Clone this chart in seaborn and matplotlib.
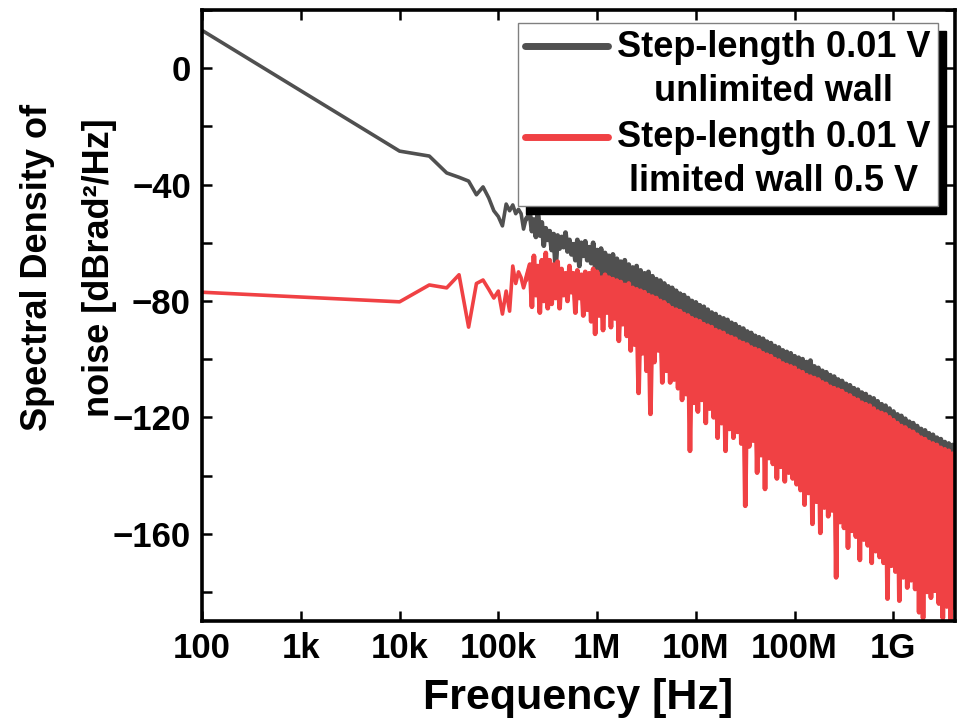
import matplotlib
matplotlib.use("Agg")
import matplotlib.pyplot as plt
import numpy as np
import pandas as pd
import seaborn as sns
from matplotlib.lines import Line2D
from matplotlib.legend_handler import HandlerLine2D
from matplotlib.ticker import FixedLocator, LogLocator, MultipleLocator, NullFormatter

# low-frequency bins, read point by point
black_f_low = [1e2, 1e4, 2e4, 3e4, 4e4, 5e4, 6e4, 7e4, 8e4, 9e4,
               1e5, 1.1e5, 1.2e5, 1.3e5, 1.4e5, 1.5e5, 1.6e5, 1.7e5, 1.8e5, 1.9e5]
black_db_low = [13.0, -28.5, -30.2, -36.0, -37.5, -38.8, -43.5, -40.8, -44.6, -49.0,
                -51.0, -54.2, -46.7, -49.0, -47.0, -50.0, -48.5, -50.0, -55.3, -52.0]

red_f_low = black_f_low
red_db_low = [-77.0, -80.3, -74.5, -75.5, -71.0, -89.0, -74.0, -72.8, -76.0, -79.0,
              -76.6, -84.5, -76.6, -83.5, -68.0, -74.0, -70.0, -72.0, -75.5, -72.8]

# dense part (210 kHz .. 4.2 GHz), sampled every 0.02 decade, peak/dip pairs
dense_start, dense_stop = 10 ** 5.32, 10 ** 9.62

black_db_dense = [
    -50, -56, -52, -58, -49, -57.5, -53, -61, -55, -59, -56, -62.5, -57, -68.7, -57.5, -62,
    -58, -61.5, -56.5, -63, -59, -64, -60.5, -66, -59, -68, -60, -64.5, -59.5, -66, -61.5, -67,
    -60, -69, -62.5, -71.5, -62, -73.5, -63.5, -72.5, -64.5, -73.5, -64, -74, -65.5, -74.5,
    -66.5, -75, -66, -76, -67.5, -75.5, -68.5, -77, -68, -77.5, -69.5, -78, -70.5, -78.5,
    -70, -79.5, -71.5, -80, -72.5, -80.5, -73, -81.5, -74, -82, -75, -83, -75.5, -84,
    -76.5, -84.5, -77.5, -85, -78, -86, -79, -86.5, -80, -87.5, -80.5, -88, -81.5, -88.5,
    -82, -89.5, -83, -90, -84, -90.5, -84.5, -91.5, -85.5, -92, -86, -92.5, -86.5, -93.5,
    -87.5, -94, -88, -94.5, -89, -95.5, -89.5, -96, -90.5, -96.5, -91, -97.5, -92, -98,
    -92.5, -98.5, -93, -99.5, -94, -100, -94.5, -100.5, -95.5, -101.5, -96, -102, -97, -103,
    -97.5, -103.5, -98, -104, -99, -104.5, -99.5, -105.5, -100, -106, -101, -107, -100.5, -107.5,
    -102.5, -108, -103, -108.5, -104, -109.5, -104.5, -110, -105.5, -111, -106, -111.5,
    -107, -112, -107.5, -112.5, -108.5, -113.5, -109, -114, -110, -115, -110.5, -115.5,
    -111.5, -116.5, -112, -117, -113, -117.5, -113.5, -118.5, -114.5, -119.5, -115.5, -120,
    -116, -120.5, -117, -121.5, -118, -122.5, -119, -123.5, -119.5, -124.5, -120.5, -125,
    -121.5, -126, -122, -126.5, -123, -127.5, -124, -128.5, -124.5, -129, -125.5, -130,
    -126, -130.5, -127, -131, -127.5, -132, -128.5, -132.5, -129, -133, -129.5, -134,
]

red_db_dense = [
    -67.5, -82, -64.5, -78, -68, -84, -66, -80, -63.5, -82.5, -66, -81, -67.5, -79, -66.5, -82.5,
    -69, -78, -70.5, -80, -68, -77, -70.5, -84, -69.5, -79, -71, -85, -70, -83, -70.5, -87,
    -69, -91.3, -70, -85, -72, -90, -71, -84, -72, -89, -72.5, -86, -73, -93.7, -73.5, -88,
    -74.5, -92, -74, -97, -75.5, -95, -76, -111.6, -76.5, -98, -77, -104, -78, -118.8,
    -78.5, -101, -79, -97, -80, -108, -80.5, -104, -81.5, -108, -82.5, -107, -83, -110,
    -83.5, -114, -84.5, -112, -85, -131.5, -86, -115, -86.5, -118, -87, -114, -88, -121.9,
    -88.5, -117, -89, -120, -90, -127, -90.5, -122, -91, -131.5, -92, -124, -92.5, -127,
    -93, -125, -94, -129, -94.5, -150.4, -95, -130, -96, -128, -96.5, -139, -97, -133,
    -98, -144.6, -98.5, -134, -99, -136, -100, -141, -100.5, -137, -101.5, -142, -102, -139,
    -102.5, -141, -103, -143, -104, -145, -104.5, -150, -105.5, -146, -106, -156.6,
    -106.5, -149, -107, -159.7, -108, -151, -108.5, -154, -109.5, -152, -110, -175,
    -110.5, -156, -111, -158, -112, -164.8, -112.5, -159, -113.5, -161, -114, -169,
    -115, -162, -115.5, -164, -116, -170, -117, -166, -118, -168, -118.5, -170,
    -119, -182.3, -120, -171, -121, -173, -122, -183, -123, -175, -123.5, -178.5,
    -124.5, -176, -125, -179, -126, -187, -127, -189, -127.5, -180, -128.5, -182,
    -129, -179.6, -129.5, -184, -130.5, -189, -131, -185, -131.5, -192, -132.5, -185.4,
]

labels = ["Step-length 0.01 V\nunlimited wall", "Step-length 0.01 V\nlimited wall 0.5 V"]
x_ticks = [1e2, 1e3, 1e4, 1e5, 1e6, 1e7, 1e8, 1e9]
x_ticklabels = ["100", "1k", "10k", "100k", "1M", "10M", "100M", "1G"]
y_ticks = [0, -40, -80, -120, -160]

dense_f = np.geomspace(dense_start, dense_stop, len(red_db_dense))
black = pd.DataFrame({"f": np.concatenate([black_f_low, dense_f]),
                      "db": np.concatenate([black_db_low, black_db_dense])})
red = pd.DataFrame({"f": np.concatenate([red_f_low, dense_f]),
                    "db": np.concatenate([red_db_low, red_db_dense])})
n_low = len(black_f_low)

sns.set_theme(style="ticks")
plt.rcParams["font.family"] = ["Liberation Sans", "DejaVu Sans"]
plt.rcParams["font.weight"] = "bold"
for key in ["text.color", "axes.labelcolor", "xtick.color", "ytick.color"]:
    plt.rcParams[key] = "black"

fig = plt.figure(figsize=(9.57, 7.2), dpi=100)
ax = fig.add_axes([0.2111, 0.1375, 0.7868, 0.8486])

black_c, red_c = "#505050", "#f04144"
sns.lineplot(data=black, x="f", y="db", color=black_c, linewidth=2.6,
             estimator=None, sort=False, label=labels[0], ax=ax)
# the dense FFT region reads as a solid band, so stroke it heavier
sns.lineplot(data=black.iloc[n_low - 1:], x="f", y="db", color=black_c, linewidth=3.4,
             estimator=None, sort=False, legend=False, ax=ax)
sns.lineplot(data=red, x="f", y="db", color=red_c, linewidth=2.6,
             estimator=None, sort=False, label=labels[1], ax=ax)
sns.lineplot(data=red.iloc[n_low - 1:], x="f", y="db", color=red_c, linewidth=3.4,
             estimator=None, sort=False, legend=False, ax=ax)

ax.set_xscale("log")
ax.set_xlim(100, 4.2e9)
ax.set_ylim(-190, 20)

ax.xaxis.set_major_locator(FixedLocator(x_ticks))
ax.set_xticklabels(x_ticklabels)
ax.xaxis.set_minor_locator(LogLocator(base=10, subs=np.arange(2, 10)))
ax.xaxis.set_minor_formatter(NullFormatter())
ax.set_yticks(y_ticks)
ax.yaxis.set_minor_locator(MultipleLocator(20))

ax.tick_params(which="both", direction="in", top=True, right=True, width=1.8,
               labelsize=25, pad=8)
ax.tick_params(which="major", length=7)
ax.tick_params(axis="x", which="minor", length=3.5)
ax.tick_params(axis="y", which="minor", length=7)
for t in ax.get_xticklabels() + ax.get_yticklabels():
    t.set_fontweight("bold")
for s in ax.spines.values():
    s.set_linewidth(2.6)
    s.set_color("black")

ax.set_xlabel("Frequency [Hz]", fontsize=31, fontweight="bold", labelpad=9)
ax.set_ylabel("Spectral Density of\nnoise [dBrad²/Hz]", fontsize=26,
              fontweight="bold", linespacing=2.0)
ax.yaxis.set_label_coords(-0.113, 0.578)


class TopLine(HandlerLine2D):
    # put the legend line level with the first text row
    def create_artists(self, legend, orig_handle, xdescent, ydescent, width,
                       height, fontsize, trans):
        arts = super().create_artists(legend, orig_handle, xdescent, ydescent,
                                      width, height, fontsize, trans)
        for a in arts:
            a.set_ydata(np.asarray(a.get_ydata()) + 0.66 * fontsize)
            a.set_linewidth(5)
            a.set_solid_capstyle("round")
        return arts


handles, labs = ax.get_legend_handles_labels()
leg = ax.legend(handles, labs, loc="upper right", bbox_to_anchor=(0.977, 0.979),
                borderaxespad=0, prop={"weight": "bold", "size": 26},
                frameon=True, fancybox=False, framealpha=1, edgecolor="#808080",
                handlelength=2.3, handletextpad=0.25, borderpad=0.2,
                labelspacing=0.32,
                shadow={"ox": 6, "oy": -6, "color": "black", "alpha": 1},
                handler_map={Line2D: TopLine()})
leg.get_frame().set_linewidth(1.0)
for t in leg.get_texts():
    t.set_multialignment("center")
    t.set_linespacing(1.32)

fig.savefig("out.png", dpi=100)
